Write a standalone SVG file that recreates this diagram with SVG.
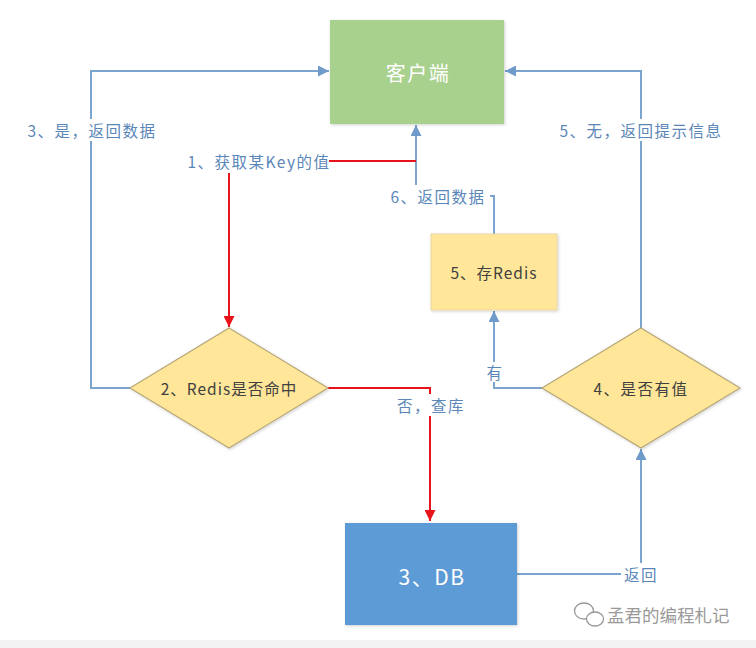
<svg xmlns="http://www.w3.org/2000/svg" width="756" height="648" viewBox="0 0 756 648">
<style>
.lbl{font-family:"Noto Sans CJK SC","Liberation Sans",sans-serif;font-size:15.5px;letter-spacing:1.5px;fill:#5B87B8;text-anchor:middle;dominant-baseline:central}
.blue{fill:none;stroke:#7BA4CF;stroke-width:2}
.red{fill:none;stroke:#E8141B;stroke-width:2}
.node{font-family:"Noto Sans CJK SC","Liberation Sans",sans-serif;text-anchor:middle;dominant-baseline:central}
</style>
<defs>
<marker id="ab" viewBox="0 0 10 10" refX="10" refY="5" markerWidth="5.5" markerHeight="5.5" orient="auto" markerUnits="strokeWidth"><path d="M0,0 L10,5 L0,10 z" fill="#6F9BCB"/></marker>
<marker id="ar" viewBox="0 0 10 10" refX="10" refY="5" markerWidth="5.5" markerHeight="5.5" orient="auto" markerUnits="strokeWidth"><path d="M0,0 L10,5 L0,10 z" fill="#E8141B"/></marker>
<filter id="sh" x="-10%" y="-10%" width="130%" height="130%"><feDropShadow dx="1" dy="1" stdDeviation="1.5" flood-color="#000" flood-opacity="0.18"/></filter>
</defs>
<rect width="756" height="648" fill="#fff"/>
<rect x="0" y="640" width="756" height="8" fill="#F3F3F3"/>

<g id="connectors">
<polyline class="blue" points="130,388 91,388 91,71 329,71" marker-end="url(#ab)"/>
<polyline class="blue" points="641,328 641,71 505,71" marker-end="url(#ab)"/>
<polyline class="blue" points="494,234 494,196 416,196 416,125" marker-end="url(#ab)"/>
<polyline class="blue" points="543,388 494,388 494,311" marker-end="url(#ab)"/>
<polyline class="blue" points="517,574 641,574 641,449" marker-end="url(#ab)"/>
<polyline class="red" points="416,161 229,161 229,327" marker-end="url(#ar)"/>
<polyline class="red" points="328,388 430,388 430,521" marker-end="url(#ar)"/>
<rect x="20" y="119" width="142" height="22" fill="#fff"/>
<text class="lbl" x="92" y="130">3、是，返回数据</text>
<rect x="185" y="149" width="144" height="24" fill="#fff"/>
<text class="lbl" x="259" y="161">1、获取某Key的值</text>
<rect x="552" y="119" width="176" height="22" fill="#fff"/>
<text class="lbl" x="641" y="130">5、无，返回提示信息</text>
<rect x="386" y="185" width="104" height="22" fill="#fff"/>
<text class="lbl" x="438" y="196">6、返回数据</text>
<rect x="484" y="362" width="20" height="20" fill="#fff"/>
<text class="lbl" x="495" y="372">有</text>
<rect x="393" y="394" width="76" height="22" fill="#fff"/>
<text class="lbl" x="431" y="405">否，查库</text>
<rect x="621" y="563" width="38" height="22" fill="#fff"/>
<text class="lbl" x="641" y="574">返回</text>
</g>

<g id="client">
<rect x="330" y="20" width="174" height="104" fill="#A9D18E" filter="url(#sh)"/>
<text class="node" x="418" y="72" font-size="20" letter-spacing="1.5" fill="#fff">客户端</text>
</g>
<g id="redis-hit">
<polygon points="229,328 328,388 229,448 130,388" fill="#FFE699" stroke="#B7A779" stroke-width="1.2" filter="url(#sh)"/>
<text class="node" x="229" y="388" font-size="15.5" letter-spacing="1" fill="#404040">2、Redis是否命中</text>
</g>
<g id="db">
<rect x="345" y="523" width="172" height="102" fill="#5B9BD5" filter="url(#sh)"/>
<text class="node" x="432" y="576" font-size="21" letter-spacing="1.5" fill="#fff">3、DB</text>
</g>
<g id="has-value">
<polygon points="641,328 740,388 641,448 542,388" fill="#FFE699" stroke="#B7A779" stroke-width="1.2" filter="url(#sh)"/>
<text class="node" x="641" y="388" font-size="15.5" letter-spacing="1.5" fill="#404040">4、是否有值</text>
</g>
<g id="save-redis">
<rect x="431" y="234" width="126" height="76" fill="#FFE699" stroke="#E8D9A8" stroke-width="1" filter="url(#sh)"/>
<text class="node" x="494" y="272" font-size="15.5" letter-spacing="1" fill="#404040">5、存Redis</text>
</g>

<g id="watermark">
<ellipse cx="584" cy="611" rx="9.5" ry="8" fill="#fff" stroke="#999" stroke-width="1.3"/>
<ellipse cx="595" cy="619" rx="8.5" ry="7" fill="#fff" stroke="#999" stroke-width="1.3"/>
<text x="607" y="622" font-family="Noto Sans CJK SC,sans-serif" font-size="17.5" fill="#9A9A9A">孟君的编程札记</text>
</g>
</svg>
